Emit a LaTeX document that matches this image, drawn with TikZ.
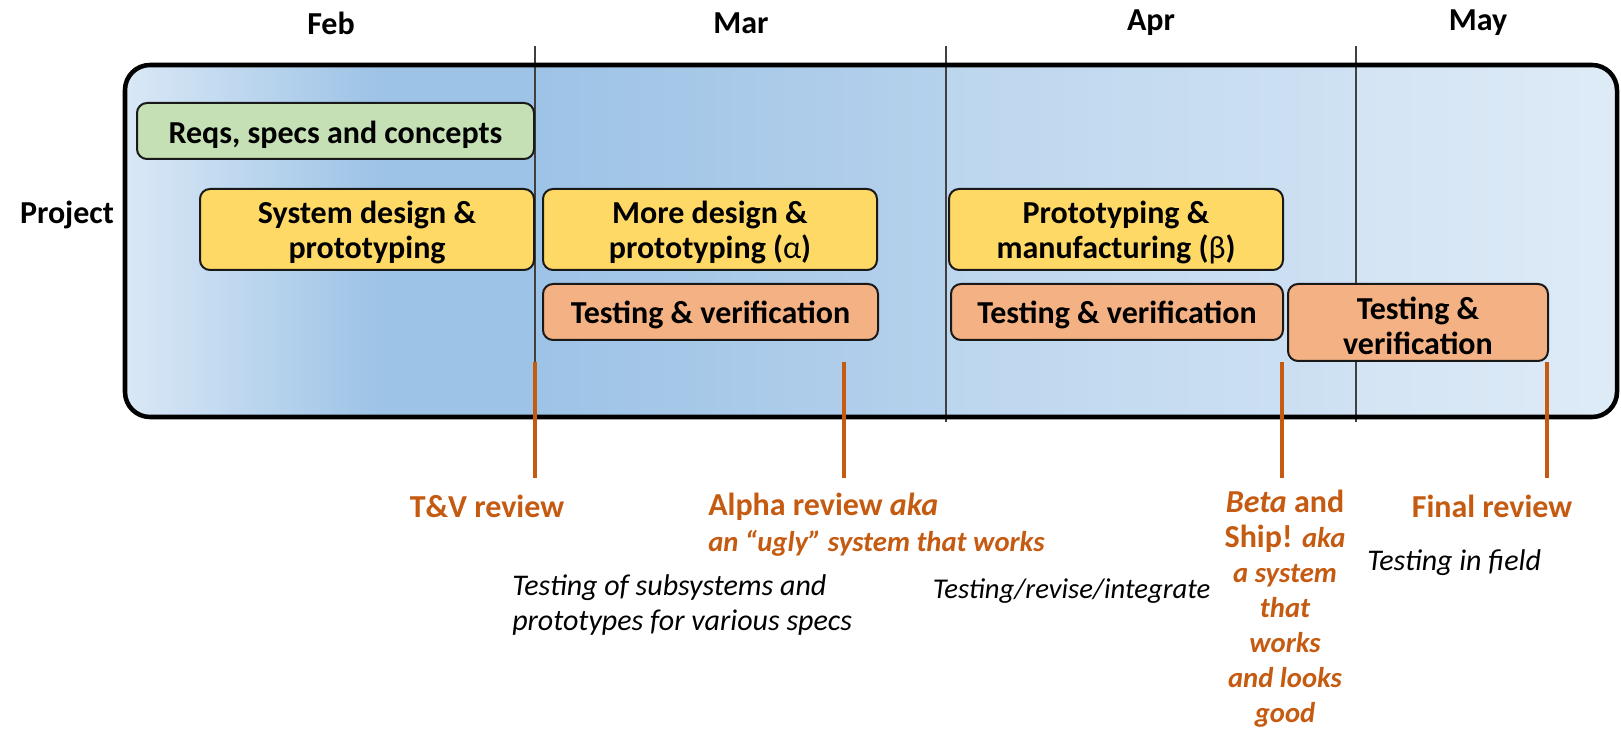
\documentclass[tikz,border=0pt]{standalone}
\usepackage{fontspec}
\setmainfont{Carlito}
\definecolor{bgA}{HTML}{DAE8F6}
\definecolor{bgB}{HTML}{9DC3E6}
\definecolor{bgC}{HTML}{B5D1EC}
\definecolor{bgD}{HTML}{BCD6EE}
\definecolor{bgE}{HTML}{CFE1F3}
\definecolor{bgF}{HTML}{D4E4F4}
\definecolor{bgG}{HTML}{DEEBF7}
\definecolor{boxgreen}{HTML}{C5E0B4}
\definecolor{boxyellow}{HTML}{FFD966}
\definecolor{boxorange}{HTML}{F4B183}
\definecolor{mile}{HTML}{C55A11}
\definecolor{divgray}{HTML}{404040}
\begin{document}
\begin{tikzpicture}[x=0.75pt,y=-0.75pt,
  box/.style={draw=black!90, line width=1.5pt, rounded corners=7.5pt, inner sep=0pt},
  boxtext/.style={align=center, font=\fontsize{24}{26.25}\selectfont\bfseries, inner sep=0pt},
  month/.style={font=\fontsize{24}{26.25}\selectfont\bfseries, inner sep=0pt},
  mlabel/.style={font=\fontsize{24}{26.25}\selectfont\bfseries, text=mile, inner sep=0pt},
  akatext/.style={font=\fontsize{21.5}{26.25}\selectfont\bfseries\itshape, text=mile, inner sep=0pt},
  note/.style={font=\fontsize{22.5}{26.25}\selectfont\itshape, inner sep=0pt, align=left},
  divider/.style={draw=divgray, line width=1.5pt},
  milestone/.style={draw=mile, line width=3.4pt},
  frame/.style={draw=black, line width=3.4pt, rounded corners=18.75pt, inner sep=0pt}
]
\useasboundingbox (0,0) rectangle (1621,730);
% background gradient
\begin{scope}
\clip[rounded corners=18.75pt] (125,65) rectangle (1617,417);
\shade[left color=bgA, right color=bgB] (124,64) rectangle (378,418);
\fill[bgB] (377,64) rectangle (535.5,418);
\shade[left color=bgB, right color=bgC] (535,64) rectangle (946,418);
\shade[left color=bgD, right color=bgE] (945.5,64) rectangle (1356,418);
\shade[left color=bgF, right color=bgG] (1355.5,64) rectangle (1618,418);
\end{scope}
% month dividers
\coordinate (d1t) at (535,46);   \coordinate (d1b) at (535,422);
\coordinate (d2t) at (945.5,46); \coordinate (d2b) at (945.5,422);
\coordinate (d3t) at (1355.5,46);\coordinate (d3b) at (1355.5,422);
\draw[divider] (d1t) -- (d1b);
\draw[divider] (d2t) -- (d2b);
\draw[divider] (d3t) -- (d3b);
% frame
\node[frame, minimum width=1119pt, minimum height=264pt] (frame) at (871,241) {};
% months
\node[month] (feb) at (331,23) {Feb};
\node[month] (mar) at (741,23) {Mar};
\node[month] (apr) at (1151,23) {Apr};
\node[month] (may) at (1478,23) {May};
\node[month] (proj) at (67,215) {Project};
% tasks
\node[box, fill=boxgreen, minimum width=297.75pt, minimum height=42pt] (reqs) at (335.5,131) {};
\node[boxtext] (reqs-t) at ([yshift=-2.5pt]reqs.center) {Reqs, specs and concepts};
\node[box, fill=boxyellow, minimum width=250.5pt, minimum height=60.75pt] (sys) at (367,229.5) {};
\node[boxtext] (sys-t) at ([yshift=-2.5pt]sys.center) {System design \&\\prototyping};
\node[box, fill=boxyellow, minimum width=250.5pt, minimum height=60.75pt] (more) at (710,229.5) {};
\node[boxtext] (more-t) at ([yshift=-2.5pt]more.center) {More design \&\\prototyping (\textmd{α})};
\node[box, fill=boxorange, minimum width=251.25pt, minimum height=42pt] (tv1) at (710.5,312) {};
\node[boxtext] (tv1-t) at ([yshift=-2.5pt]tv1.center) {Testing \& verification};
\node[box, fill=boxyellow, minimum width=250.5pt, minimum height=60.75pt] (proto) at (1116,229.5) {};
\node[boxtext] (proto-t) at ([yshift=-2.5pt]proto.center) {Prototyping \&\\manufacturing (\textmd{β})};
\node[box, fill=boxorange, minimum width=249pt, minimum height=42pt] (tv2) at (1117,312) {};
\node[boxtext] (tv2-t) at ([yshift=-2.5pt]tv2.center) {Testing \& verification};
\node[box, fill=boxorange, minimum width=195pt, minimum height=57.75pt] (tv3) at (1418,322.5) {};
\node[boxtext] (tv3-t) at ([yshift=-2.5pt]tv3.center) {Testing \&\\verification};
% milestones
\coordinate (m1t) at (535,362);  \coordinate (m1b) at (535,478);
\coordinate (m2t) at (844,362);  \coordinate (m2b) at (844,478);
\coordinate (m3t) at (1282,362); \coordinate (m3b) at (1282,478);
\coordinate (m4t) at (1547,362); \coordinate (m4b) at (1547,478);
\draw[milestone] (m1t) -- (m1b);
\draw[milestone] (m2t) -- (m2b);
\draw[milestone] (m3t) -- (m3b);
\draw[milestone] (m4t) -- (m4b);
% milestone labels
\node[mlabel] (tvr) at (487,506.5) {T\&V review};
\node[mlabel, anchor=west] (alpha) at (708,506.5) {Alpha review \textit{aka}};
\node[akatext, anchor=west] (ugly) at (708,543) {an “ugly” system that works};
\node[mlabel, align=center] (beta) at (1285,609) {\textit{Beta} and\\Ship! {\fontsize{21.5}{26.25}\selectfont\itshape aka}\\
{\fontsize{21.5}{26.25}\selectfont\itshape a system}\\{\fontsize{21.5}{26.25}\selectfont\itshape that}\\{\fontsize{21.5}{26.25}\selectfont\itshape works}\\{\fontsize{21.5}{26.25}\selectfont\itshape and looks}\\{\fontsize{21.5}{26.25}\selectfont\itshape good}};
\node[mlabel] (final) at (1492,506.5) {Final review};
% notes
\node[note, anchor=west] (n1) at (512,605) {Testing of subsystems and\\prototypes for various specs};
\node[note, anchor=west, font=\fontsize{21.5}{26.25}\selectfont\itshape] (n2) at (932.5,591) {Testing/revise/integrate};
\node[note, anchor=west] (n3) at (1367,563) {Testing in field};
\end{tikzpicture}
\end{document}
